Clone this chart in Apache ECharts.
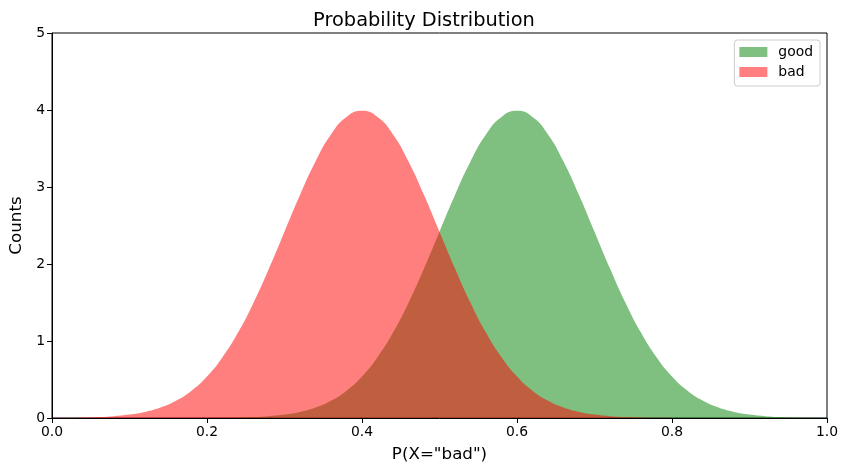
<!DOCTYPE html>
<html>
<head>
<meta charset="utf-8">
<script src="https://cdn.jsdelivr.net/npm/echarts@6/dist/echarts.min.js"></script>
<style>html,body{margin:0;padding:0;background:#fff}#c{width:848px;height:475px}</style>
</head>
<body>
<div id="c"></div>
<script>
const xValues = [0,0.02,0.04,0.06,0.08,0.1,0.12,0.14,0.16,0.18,0.2,0.22,0.24,0.26,0.28,0.3,0.32,0.34,0.36,0.38,0.4,0.42,0.44,0.46,0.48,0.5,0.52,0.54,0.56,0.58,0.6,0.62,0.64,0.66,0.68,0.7,0.72,0.74,0.76,0.78,0.8,0.82,0.84,0.86,0.88,0.9,0.92,0.94,0.96,0.98,1];
const badCounts = [0.0013,0.0029,0.0061,0.012,0.024,0.044,0.079,0.136,0.224,0.355,0.540,0.790,1.109,1.497,1.942,2.420,2.897,3.332,3.683,3.910,3.989,3.910,3.683,3.332,2.897,2.420,1.942,1.497,1.109,0.790,0.540,0.355,0.224,0.136,0.079,0.044,0.024,0.012,0.0061,0.0029,0.0013,0.0006,0.00025,0.0001,0.00004,0.00001,0,0,0,0,0];
const goodCounts = [0,0,0,0,0,0.00001,0.00004,0.0001,0.00025,0.0006,0.0013,0.0029,0.0061,0.012,0.024,0.044,0.079,0.136,0.224,0.355,0.540,0.790,1.109,1.497,1.942,2.420,2.897,3.332,3.683,3.910,3.989,3.910,3.683,3.332,2.897,2.420,1.942,1.497,1.109,0.790,0.540,0.355,0.224,0.136,0.079,0.044,0.024,0.012,0.0061,0.0029,0.0013];
const xTicks = [0,0.2,0.4,0.6,0.8,1.0];
const yTicks = [0,1,2,3,4,5];

const chart = echarts.init(document.getElementById('c'));
const font = 'DejaVu Sans';
chart.setOption({
  animation: false,
  backgroundColor: '#fff',
  textStyle: {fontFamily: font},
  title: {text: 'Probability Distribution', left: 'center', top: 6,
    textStyle: {fontFamily: font, fontSize: 19.4, fontWeight: 'normal', color: '#000'}},
  legend: {orient: 'vertical', right: 28, top: 40, itemWidth: 28, itemHeight: 10, itemGap: 6,
    padding: [5, 7, 7, 5], borderColor: '#ccc', borderWidth: 1, borderRadius: 3,
    textStyle: {fontFamily: font, fontSize: 13.9, color: '#000', padding: [0, 0, 0, 6]},
    data: [{name: 'good', icon: 'rect'}, {name: 'bad', icon: 'rect'}]},
  grid: {left: 52, right: 21, top: 33, bottom: 57, show: true, borderColor: '#000', borderWidth: 1, containLabel: false},
  xAxis: {type: 'value', min: 0, max: 1, interval: 0.2,
    name: 'P(X="bad")', nameLocation: 'middle', nameGap: 28,
    nameTextStyle: {fontFamily: font, fontSize: 16.7, color: '#000'},
    axisLine: {show: true, lineStyle: {color: '#000'}},
    axisTick: {show: true, length: 5, lineStyle: {color: '#000'}},
    axisLabel: {fontFamily: font, fontSize: 13.9, color: '#000', margin: 7, formatter: v => v.toFixed(1)},
    splitLine: {show: false}},
  yAxis: {type: 'value', min: 0, max: 5, interval: 1,
    name: 'Counts', nameLocation: 'middle', nameGap: 26,
    nameTextStyle: {fontFamily: font, fontSize: 16.7, color: '#000'},
    axisLine: {show: true, lineStyle: {color: '#000'}},
    axisTick: {show: true, length: 5, lineStyle: {color: '#000'}},
    axisLabel: {fontFamily: font, fontSize: 13.9, color: '#000', margin: 7},
    splitLine: {show: false}},
  series: [
    {name: 'good', type: 'line', data: xValues.map((x, i) => [x, goodCounts[i]]),
     smooth: true, showSymbol: false, lineStyle: {width: 0}, color: 'rgba(0,128,0,0.5)',
     itemStyle: {color: 'rgba(0,128,0,0.5)'}, areaStyle: {color: 'rgba(0,128,0,0.5)', opacity: 1}, z: 2},
    {name: 'bad', type: 'line', data: xValues.map((x, i) => [x, badCounts[i]]),
     smooth: true, showSymbol: false, lineStyle: {width: 0}, color: 'rgba(255,0,0,0.5)',
     itemStyle: {color: 'rgba(255,0,0,0.5)'}, areaStyle: {color: 'rgba(255,0,0,0.5)', opacity: 1}, z: 3}
  ]
});
</script>
</body>
</html>
